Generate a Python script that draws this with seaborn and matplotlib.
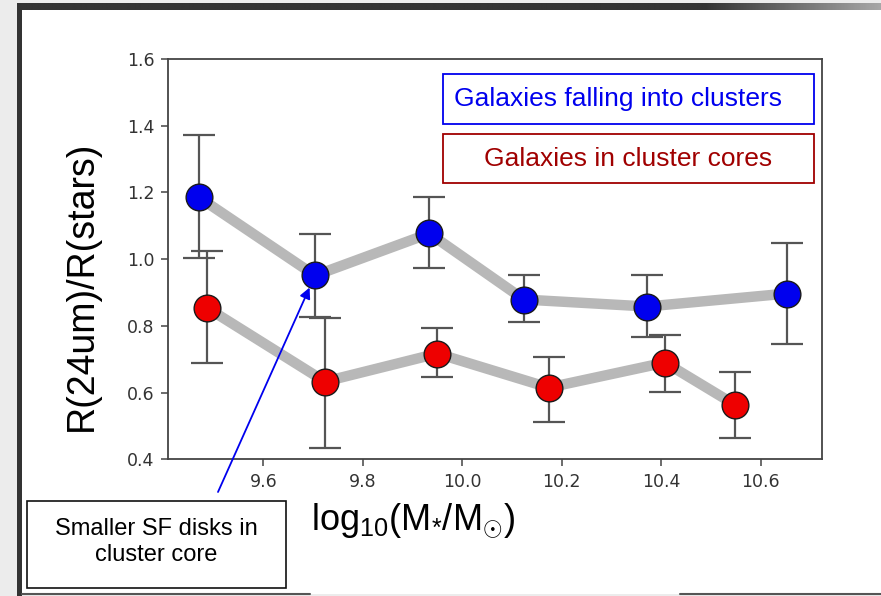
import numpy as np
import pandas as pd
import matplotlib
matplotlib.use("Agg")
import matplotlib.pyplot as plt
import seaborn as sns
from matplotlib.patches import Rectangle

# Stellar mass bins (log10 M*/Msun) and size ratios R(24um)/R(stars)
mass_infall = [9.470, 9.704, 9.934, 10.124, 10.372, 10.654]
ratio_infall = [1.186, 0.951, 1.077, 0.879, 0.858, 0.897]
low_infall = [1.003, 0.828, 0.972, 0.813, 0.768, 0.747]
high_infall = [1.372, 1.074, 1.186, 0.951, 0.951, 1.047]

mass_core = [9.486, 9.724, 9.950, 10.174, 10.408, 10.548]
ratio_core = [0.855, 0.633, 0.717, 0.615, 0.690, 0.564]
low_core = [0.690, 0.435, 0.648, 0.513, 0.603, 0.465]
high_core = [1.025, 0.823, 0.795, 0.708, 0.774, 0.663]

x_ticks = [9.6, 9.8, 10.0, 10.2, 10.4, 10.6]
y_ticks = [0.4, 0.6, 0.8, 1.0, 1.2, 1.4, 1.6]

label_infall = "Galaxies falling into clusters"
label_core = "Galaxies in cluster cores"
note_text = "Smaller SF disks in\ncluster core"

infall = pd.DataFrame({"mass": mass_infall, "ratio": ratio_infall,
                       "lo": low_infall, "hi": high_infall})
core = pd.DataFrame({"mass": mass_core, "ratio": ratio_core,
                     "lo": low_core, "hi": high_core})

sns.set_theme(style="white")
plt.rcParams["font.family"] = ["DejaVu Sans"]
plt.rcParams["mathtext.fontset"] = "custom"
plt.rcParams["mathtext.rm"] = "Liberation Sans"
plt.rcParams["mathtext.it"] = "Liberation Sans:italic"
plt.rcParams["mathtext.bf"] = "Liberation Sans:bold"

W, H = 881, 596
fig = plt.figure(figsize=(W / 100, H / 100), dpi=100)
fig.patch.set_facecolor("white")

# --- slide frame drawn in pixel coordinates behind everything ---
bg = fig.add_axes([0, 0, 1, 1], zorder=-10)
bg.axis("off")
bg.add_patch(Rectangle((0, 0), W, H, color="#ececec", lw=0, zorder=0))
bg.add_patch(Rectangle((22, 10), W - 22, 584, color="white", lw=0, zorder=1))
bg.add_patch(Rectangle((16.5, 3), 5.5, H - 3, color="#333333", lw=0, zorder=2))
grad = np.concatenate([np.zeros(700), np.linspace(0, 1, 181)])[None, :]
bg.imshow(grad, extent=(16.5, W, 10, 3), aspect="auto", zorder=3,
          cmap=matplotlib.colors.LinearSegmentedColormap.from_list(
              "band", ["#333333", "#a8a8a8"]), vmin=0, vmax=1)
bg.plot([22, 310], [594, 594], color="#555555", lw=1.5, zorder=4)
bg.plot([680, W], [594, 594], color="#555555", lw=1.5, zorder=4)
bg.set_xlim(0, W)
bg.set_ylim(H, 0)

# --- main axes ---
left, right, top, bottom = 168.3, 821.7, 59.0, 459.3
ax = fig.add_axes([left / W, (H - bottom) / H, (right - left) / W, (bottom - top) / H])
ax.set_facecolor("white")

for df, face in [(infall, "#0000ee"), (core, "#ee0000")]:
    sns.lineplot(data=df, x="mass", y="ratio", sort=False, estimator=None,
                 color="#b8b8b8", lw=7.5, ax=ax, zorder=1)
    ax.errorbar(df["mass"], df["ratio"],
                yerr=[df["ratio"] - df["lo"], df["hi"] - df["ratio"]],
                fmt="none", ecolor="#555555", elinewidth=1.6,
                capsize=11.5, capthick=1.6, zorder=2)
    sns.scatterplot(data=df, x="mass", y="ratio", color=face, s=370,
                    edgecolor="#1a1a1a", linewidth=1.0, ax=ax, zorder=3)

ax.set_xlim(9.409, 10.723)
ax.set_ylim(0.4, 1.6)
ax.set_xticks(x_ticks)
ax.set_yticks(y_ticks)
ax.set_xticklabels([f"{v:.1f}" for v in x_ticks])
ax.set_yticklabels([f"{v:.1f}" for v in y_ticks])
ax.set_xlabel("")
ax.set_ylabel("")
ax.tick_params(direction="out", length=5, width=1.1, colors="#444444",
               labelsize=12.5, pad=5, labelcolor="#333333")
ax.tick_params(axis="both", which="both", bottom=True, left=True)
for s in ax.spines.values():
    s.set_color("#444444")
    s.set_linewidth(1.3)
    s.set_visible(True)

# axis titles
fig.text(82 / W, 1 - 286 / H, "R(24um)/R(stars)", rotation=90,
         ha="center", va="center", fontsize=27, family="Liberation Sans",
         color="black")
fig.text(311 / W, 1 - 530 / H, r"log$_{10}$(M$_{*}$/M$_{\odot}$)",
         ha="left", va="baseline", fontsize=26, family="Liberation Sans",
         color="black")

# --- overlay: key boxes, note box and arrow ---
ov = fig.add_axes([0, 0, 1, 1], zorder=5)
ov.set_xlim(0, W)
ov.set_ylim(H, 0)
ov.axis("off")
ov.patch.set_alpha(0)
ov.add_patch(Rectangle((443, 74), 371, 50, fill=False, edgecolor="#0000ee", lw=1.3))
ov.text(454, 99, label_infall, ha="left", va="center", fontsize=19,
        family="Liberation Sans", color="#0000ee")
ov.add_patch(Rectangle((443, 134), 371, 49, fill=False, edgecolor="#a00000", lw=1.3))
ov.text(628.5, 158.5, label_core, ha="center", va="center", fontsize=19,
        family="Liberation Sans", color="#a00000")
ov.add_patch(Rectangle((27, 501), 259, 87, fill=False, edgecolor="#111111", lw=1.2))
ov.text(156, 542, note_text, ha="center", va="center", fontsize=17,
        family="Liberation Sans", color="black", linespacing=1.2)

ax.annotate("", xy=(mass_infall[1], ratio_infall[1]), xycoords="data",
            xytext=(218, H - 492), textcoords="figure pixels",
            arrowprops=dict(arrowstyle="-|>", color="#0000ee", lw=1.3,
                            shrinkA=0, shrinkB=9.5, mutation_scale=16),
            zorder=6, annotation_clip=False)

fig.savefig("out.png", dpi=100)
